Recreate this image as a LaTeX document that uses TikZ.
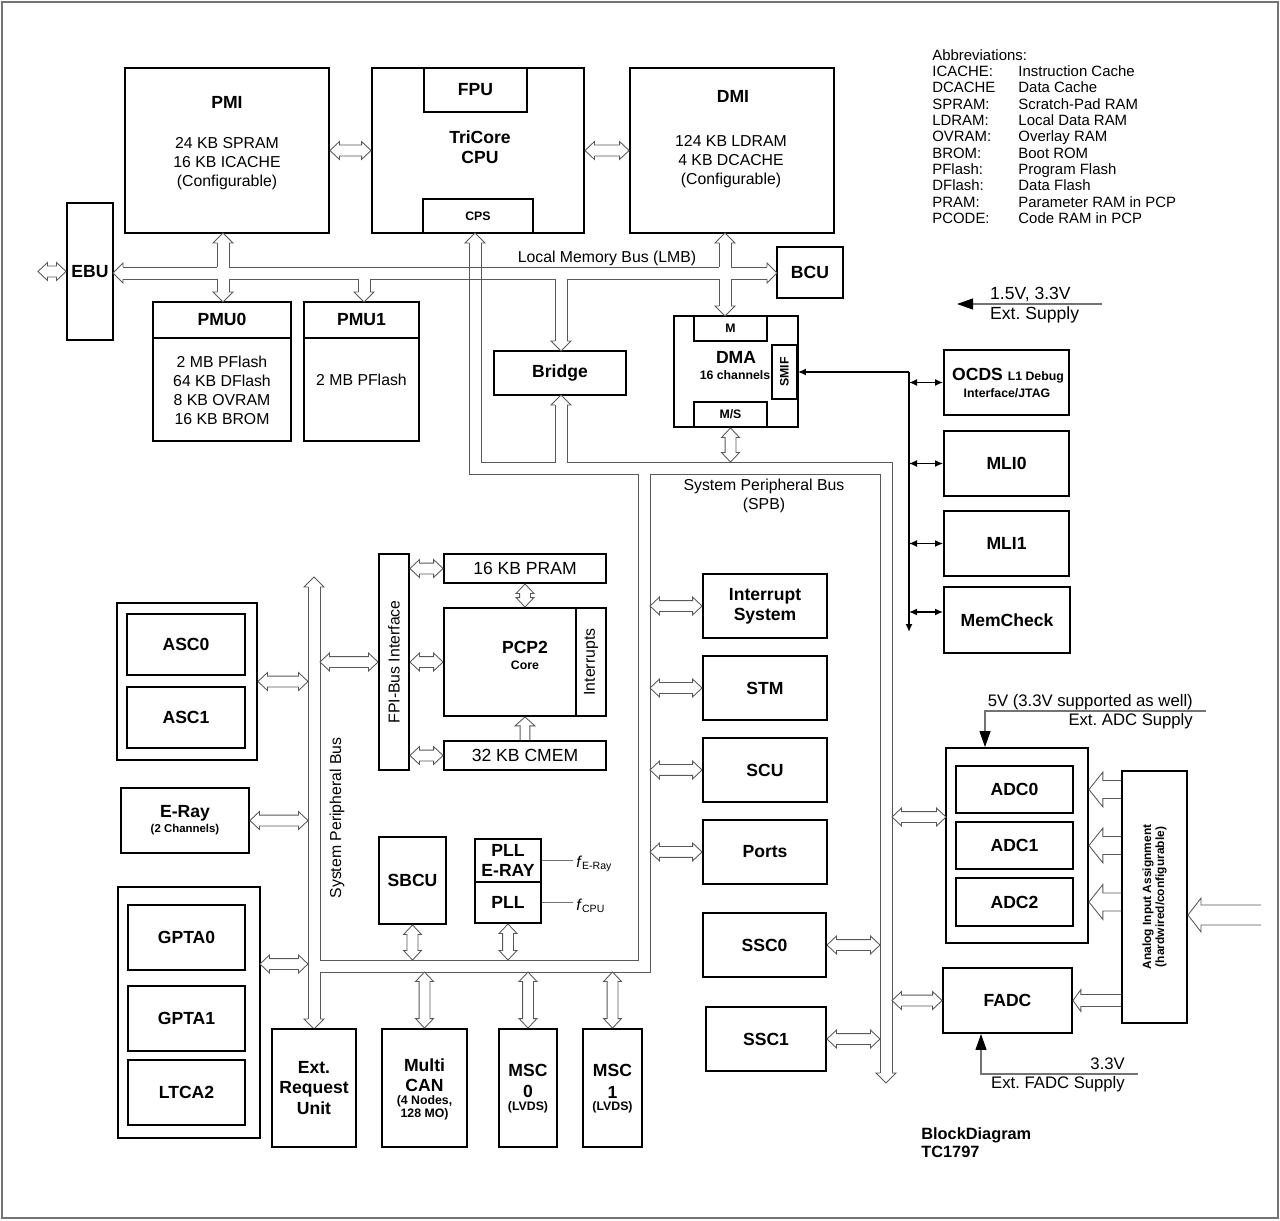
\documentclass[tikz,border=0pt]{standalone}
\usepackage{fontspec}
\setmainfont{Liberation Sans}
\usepackage{tikz}
\usetikzlibrary{shapes, arrows.meta, positioning, calc}
\frenchspacing
\tikzstyle{block}=[draw,line width=1.1pt,rectangle,inner sep=0pt,align=center,font=\bfseries\fontsize{10}{11.5}\selectfont]
\tikzstyle{every node}=[font=\fontsize{9}{10.8}\selectfont]
\tikzstyle{title}=[inner sep=0pt,align=center,font=\bfseries\fontsize{10}{11.5}\selectfont]
\tikzstyle{body}=[inner sep=0pt,align=center,font=\fontsize{9}{10.8}\selectfont]
\tikzstyle{note}=[inner sep=0pt,align=center,font=\bfseries\fontsize{7}{7.5}\selectfont]
\tikzstyle{bus}=[draw=black!65,line width=0.5pt]
\tikzstyle{sig}=[line width=0.8pt]
\tikzstyle{supply}=[draw=black!55,line width=0.6pt,-{Triangle[length=3.2mm,width=2.2mm,color=black]}]
\newcommand{\arpt}[2]{({(\x1)+(#1)*(\n2)-(#2)*(\n3)},{(\y1)+(#1)*(\n3)+(#2)*(\n2)})}
\tikzset{
  dbl/.style n args={3}{bus,to path={let \p1=(\tikztostart),\p2=(\tikztotarget),
      \n1={veclen((\x2)-(\x1),(\y2)-(\y1))},\n2={((\x2)-(\x1))/(\n1)},\n3={((\y2)-(\y1))/(\n1)} in
      \arpt{0}{0} -- \arpt{#1}{#2} -- \arpt{#1}{#3} -- \arpt{\n1-#1}{#3} -- \arpt{\n1-#1}{#2} -- \arpt{\n1}{0}
      -- \arpt{\n1-#1}{-#2} -- \arpt{\n1-#1}{-#3} -- \arpt{#1}{-#3} -- \arpt{#1}{-#2} -- cycle}},
  sgl/.style n args={3}{bus,to path={let \p1=(\tikztostart),\p2=(\tikztotarget),
      \n1={veclen((\x2)-(\x1),(\y2)-(\y1))},\n2={((\x2)-(\x1))/(\n1)},\n3={((\y2)-(\y1))/(\n1)} in
      \arpt{0}{#3} -- \arpt{\n1-#1}{#3} -- \arpt{\n1-#1}{#2} -- \arpt{\n1}{0}
      -- \arpt{\n1-#1}{-#2} -- \arpt{\n1-#1}{-#3} -- \arpt{0}{-#3}}},
  port/.style={dbl={5.4}{5.1}{3.1}},
  bushead/.pic={\draw[bus] (-10,-6) -- (-10,-10) -- (0,0) -- (-10,10) -- (-10,6);}
}

\begin{document}
\begin{tikzpicture}[x=0.02cm,y=-0.02cm,node distance=1.64cm,>={Latex[length=1.6mm,width=1.4mm]}]
    \useasboundingbox (0,0) rectangle (1280,1220);
    \draw[black!55,line width=1pt] (2,2) rectangle (1278,1218);

    % CPU and memory interfaces
    \node[block,minimum width=4.08cm,minimum height=3.3cm] (pmi) at (227,150.5) {};
    \node[title] (pmit) at (227,102) {PMI};
    \node[body] (pmib) at (227,163.5) {24 KB SPRAM\\16 KB ICACHE\\(Configurable)};
    \node[block,minimum width=4.24cm,minimum height=3.3cm] (cpu) at (478,150.5) {};
    \node[block,minimum width=2.06cm,minimum height=0.88cm] (fpu) at (475.5,90) {FPU};
    \node[block,note,minimum width=2.2cm,minimum height=0.68cm] (cps) at (478,216) {CPS};
    \node[title] (cput) at (480,147) {TriCore\\CPU};
    \node[block,minimum width=4.08cm,minimum height=3.3cm] (dmi) at (732,150.5) {};
    \node[title] (dmit) at (733,96) {DMI};
    \node[body] (dmib) at (731,162) {124 KB LDRAM\\4 KB DCACHE\\(Configurable)};
    \node[block,minimum width=0.92cm,minimum height=2.74cm] (ebu) at (90,271.5) {EBU};
    \coordinate (ebuin) at (38,271.5);

    % program memory units
    \node[block,minimum width=2.76cm,minimum height=2.78cm] (pmu0) at (222,371.5) {};
    \draw[line width=1.1pt] ([yshift=-0.74cm]pmu0.north west) -- ([yshift=-0.74cm]pmu0.north east);
    \node[title] (pmu0t) at (222,319) {PMU0};
    \node[body] (pmu0b) at (222,390) {2 MB PFlash\\64 KB DFlash\\8 KB OVRAM\\16 KB BROM};
    \node[block,minimum width=2.3cm,minimum height=2.78cm] (pmu1) at (361.5,371.5) {};
    \draw[line width=1.1pt] ([yshift=-0.74cm]pmu1.north west) -- ([yshift=-0.74cm]pmu1.north east);
    \node[title] (pmu1t) at (361.5,320) {PMU1};
    \node[body] (pmu1b) at (361.5,380) {2 MB PFlash};

    \node[block,minimum width=1.32cm,minimum height=1.02cm] (bcu) at (810,272.5) {BCU};
    \node[block,minimum width=2.64cm,minimum height=0.88cm] (bridge) at (560,373) {Bridge};

    % DMA
    \node[block,minimum width=2.48cm,minimum height=2.22cm] (dma) at (736,371.5) {};
    \node[block,note,minimum width=1.46cm,minimum height=0.5cm] (dmam) at (730.5,328.5) {M};
    \node[block,note,minimum width=1.46cm,minimum height=0.5cm] (dmams) at (730.5,414.5) {M/S};
    \node[block,minimum width=0.5cm,minimum height=1.08cm] (smif) at (784.5,372) {};
    \node[note,rotate=90] (smift) at (smif) {SMIF};
    \node[title] (dmat) at (736,357) {DMA};
    \node[note] (dmac) at (735,375) {16 channels};

    % debug and link interfaces
    \node[block,minimum width=2.5cm,minimum height=1.3cm] (ocds) at (1006.5,382.5) {};
    \node[title] (ocdst) at (1008,376) {OCDS {\fontsize{7}{8}\selectfont L1 Debug}};
    \node[note] (ocdsb) at (1007,393) {Interface/JTAG};
    \node[block,minimum width=2.5cm,minimum height=1.3cm] (mli0) at (1006.5,463.5) {MLI0};
    \node[block,minimum width=2.5cm,minimum height=1.3cm] (mli1) at (1006.5,543.5) {MLI1};
    \node[block,minimum width=2.52cm,minimum height=1.32cm] (memchk) at (1007,620) {MemCheck};
    \coordinate (sigtop) at (909,372);
    \coordinate (sigbot) at (909,632);
    \coordinate (memin) at ([yshift=0.16cm]memchk.west);
    \draw[sig,->] (sigtop) -- (sigbot);
    \draw[sig,->] (sigtop) -- (smif.east);
    \draw[sig,<->] (sigtop |- ocds.west) -- (ocds.west);
    \draw[sig,<->] (sigtop |- mli0.west) -- (mli0.west);
    \draw[sig,<->] (sigtop |- mli1.west) -- (mli1.west);
    \draw[sig,<->] (sigtop |- memin) -- (memin);

    % supply
    \coordinate (supin) at (1102,304);
    \coordinate (suptip) at (957,304);
    \draw[supply] (supin) -- (suptip);
    \node[anchor=west,font=\fontsize{10}{12}\selectfont] (supv) at (984,294) {1.5V, 3.3V};
    \node[anchor=west,font=\fontsize{10}{12}\selectfont] (supt) at (984,315) {Ext. Supply};

    \node[anchor=north west,align=left,inner sep=0pt,font=\fontsize{8.5}{9.3}\selectfont] (abbr) at (932,49) {Abbreviations:\\
      \makebox[49pt][l]{ICACHE:}Instruction Cache\\
      \makebox[49pt][l]{DCACHE}Data Cache\\
      \makebox[49pt][l]{SPRAM:}Scratch-Pad RAM\\
      \makebox[49pt][l]{LDRAM:}Local Data RAM\\
      \makebox[49pt][l]{OVRAM:}Overlay RAM\\
      \makebox[49pt][l]{BROM:}Boot ROM\\
      \makebox[49pt][l]{PFlash:}Program Flash\\
      \makebox[49pt][l]{DFlash:}Data Flash\\
      \makebox[49pt][l]{PRAM:}Parameter RAM in PCP\\
      \makebox[49pt][l]{PCODE:}Code RAM in PCP};

    % local memory bus
    \draw[bus] (123,267) -- (217,267) (229,267) -- (719,267) (731,267) -- (767,267);
    \draw[bus] (123,279) -- (217,279) (229,279) -- (358,279) (370,279) -- (555,279) (567,279) -- (719,279) (731,279) -- (767,279);
    \draw[bus] (217,243) -- (217,267) (217,279) -- (217,292) (229,243) -- (229,267) (229,279) -- (229,292);
    \draw[bus] (358,279) -- (358,292) (370,279) -- (370,292);
    \draw[bus] (555,279) -- (555,341) (567,279) -- (567,341);
    \draw[bus] (719,243) -- (719,267) (719,279) -- (719,306) (731,243) -- (731,267) (731,279) -- (731,306);
    \pic[rotate=180] at (113,273) {bushead};
    \pic at (777,273) {bushead};
    \pic[rotate=90] at (223,233) {bushead};
    \pic[rotate=-90] at (223,302) {bushead};
    \pic[rotate=-90] at (364,302) {bushead};
    \pic[rotate=-90] at (561,351) {bushead};
    \pic[rotate=90] at (725,233) {bushead};
    \pic[rotate=-90] at (725,316) {bushead};
    \node (lmbt) at (607,258) {Local Memory Bus (LMB)};

    % system peripheral bus
    \coordinate (lbusl) at (308,0);
    \coordinate (lbusr) at (320,0);
    \coordinate (mbus) at (650,0);
    \coordinate (rbusl) at (880,0);
    \coordinate (rbusr) at (892,0);
    \coordinate (hbusu) at (0,960);
    \coordinate (hbusl) at (0,972);
    \coordinate (sbus) at (0,462);
    \draw[bus] (469,243) |- (638,474) -- (638,960) -- (320,960) -- (320,587);
    \draw[bus] (308,587) -- (308,1019);
    \draw[bus] (320,1019) -- (320,972) -- (650,972) -- (650,474) -- (880,474) -- (880,1073);
    \draw[bus] (892,1073) -- (892,462) -- (567,462) -- (567,405);
    \draw[bus] (555,405) -- (555,462) -- (481,462) -- (481,243);
    \pic[rotate=90] at (475,233) {bushead};
    \pic[rotate=90] at (314,577) {bushead};
    \pic[rotate=-90] at (314,1029) {bushead};
    \pic[rotate=-90] at (886,1083) {bushead};
    \pic[rotate=90] at (561,395) {bushead};
    \node[body] (spbt) at (764,496) {System Peripheral Bus\\(SPB)};
    \node[rotate=90] (spbv) at (337,818) {System Peripheral Bus};

    % PCP
    \node[block,minimum width=0.6cm,minimum height=4.32cm] (fpi) at (394,662) {};
    \node[rotate=90] (fpit) at (fpi) {FPI-Bus Interface};
    \node[block,font=\fontsize{10}{12}\selectfont,minimum width=3.24cm,minimum height=0.58cm] (pram) at (525,568.5) {16 KB PRAM};
    \node[block,minimum width=3.24cm,minimum height=2.16cm] (pcp) at (525,662) {};
    \node[block,minimum width=0.6cm,minimum height=2.16cm] (intr) at (591,662) {};
    \node[rotate=90] (intrt) at (intr) {Interrupts};
    \node[title] (pcpt) at (525,647) {PCP2};
    \node[note] (pcpc) at (525,665) {Core};
    \node[block,font=\fontsize{10}{12}\selectfont,minimum width=3.24cm,minimum height=0.58cm] (cmem) at (525,755.5) {32 KB CMEM};

    % clocks
    \node[block,minimum width=1.34cm,minimum height=1.74cm] (sbcu) at (412.5,880.5) {SBCU};
    \node[block,minimum width=1.32cm,minimum height=0.86cm] (pllr) at (508,860.5) {PLL\\E-RAY};
    \node[block,minimum width=1.32cm,minimum height=0.82cm] (pll) at (508,902.5) {PLL};
    \coordinate (fray) at (573,860.5);
    \coordinate (fcpu) at (573,902.5);
    \draw[black!55] (pllr.east) -- (fray);
    \draw[black!55] (pll.east) -- (fcpu);
    \node[anchor=west,inner sep=0pt] (frayt) at (576,864) {\textit{f}\textsubscript{E-Ray}};
    \node[anchor=west,inner sep=0pt] (fcput) at (576,906) {\textit{f}\textsubscript{CPU}};

    % bottom row
    \node[block,minimum width=1.68cm,minimum height=2.36cm] (eru) at (314,1088) {Ext.\\Request\\Unit};
    \node[block,minimum width=1.7cm,minimum height=2.36cm] (can) at (424.5,1088) {};
    \node[title] (cant) at (424.5,1075) {Multi\\CAN};
    \node[note] (canb) at (424.5,1108) {(4 Nodes,\\128 MO)};
    \node[block,minimum width=1.16cm,minimum height=2.36cm] (msc0) at (528,1088) {};
    \node[title,font=\bfseries\fontsize{10}{12.4}\selectfont] (msc0t) at (528,1081) {MSC\\0};
    \node[note] (msc0b) at (528,1107) {(LVDS)};
    \node[block,minimum width=1.18cm,minimum height=2.36cm] (msc1) at (612.5,1088) {};
    \node[title,font=\bfseries\fontsize{10}{12.4}\selectfont] (msc1t) at (612.5,1081) {MSC\\1};
    \node[note] (msc1b) at (612.5,1107) {(LVDS)};

    % left peripherals
    \node[block,minimum width=2.8cm,minimum height=3.14cm] (ascg) at (187,681.5) {};
    \node[block,minimum width=2.36cm,minimum height=1.22cm] (asc0) at (186,644.5) {ASC0};
    \node[block,below of=asc0,node distance=1.46cm,minimum width=2.36cm,minimum height=1.22cm] (asc1) {ASC1};
    \node[block,minimum width=2.56cm,minimum height=1.3cm] (eray) at (185,820.5) {};
    \node[title] (erayt) at (185,813) {E-Ray};
    \node[note,font=\bfseries\fontsize{6.5}{7}\selectfont] (erayb) at (185,830) {(2 Channels)};
    \node[block,minimum width=2.84cm,minimum height=5.02cm] (gptag) at (189,1012.5) {};
    \node[block,minimum width=2.34cm,minimum height=1.3cm] (gpta0) at (186.5,937.5) {GPTA0};
    \node[block,below of=gpta0,node distance=1.62cm,minimum width=2.34cm,minimum height=1.3cm] (gpta1) {GPTA1};
    \node[block,below of=gpta1,node distance=1.48cm,minimum width=2.34cm,minimum height=1.3cm] (ltca2) {LTCA2};
    \coordinate (gptain) at (260,964);

    % right peripherals
    \node[block,minimum width=2.48cm,minimum height=1.28cm] (irq) at (765,606) {Interrupt\\System};
    \node[block,below of=irq,minimum width=2.48cm,minimum height=1.28cm] (stm) {STM};
    \node[block,below of=stm,minimum width=2.48cm,minimum height=1.28cm] (scu) {SCU};
    \node[block,below of=scu,minimum width=2.48cm,minimum height=1.28cm] (ports) {Ports};
    \node[block,minimum width=2.46cm,minimum height=1.28cm] (ssc0) at (764.5,945) {SSC0};
    \node[block,minimum width=2.4cm,minimum height=1.28cm] (ssc1) at (766,1039) {SSC1};

    % analog
    \node[block,minimum width=2.84cm,minimum height=3.9cm] (adcg) at (1017,845.5) {};
    \node[block,minimum width=2.34cm,minimum height=0.94cm] (adc0) at (1014.5,789.5) {ADC0};
    \node[block,below of=adc0,node distance=1.12cm,minimum width=2.34cm,minimum height=0.94cm] (adc1) {ADC1};
    \node[block,below of=adc1,node distance=1.13cm,minimum width=2.34cm,minimum height=0.96cm] (adc2) {ADC2};
    \node[block,minimum width=2.58cm,minimum height=1.3cm] (fadc) at (1007.5,1000.5) {FADC};
    \node[block,minimum width=1.3cm,minimum height=5.04cm] (analog) at (1154.5,897) {};
    \node[note,rotate=90,font=\bfseries\fontsize{6.8}{7.4}\selectfont] (analogt) at (analog) {Analog Input Assignment\\(hardwired/configurable)};
    \coordinate (adcin) at (946,817);
    \coordinate (ain) at (1261,915);
    \coordinate (adcsup) at (1206,711);
    \coordinate (adcsupc) at (985,711);
    \coordinate (fsup) at (1138,1074);
    \coordinate (fsupc) at (981,1074);
    \draw[supply] (adcsup) -- (adcsupc) -- (adcsupc |- adcg.north);
    \draw[supply] (fsup) -- (fsupc) -- (fsupc |- fadc.south);
    \node[anchor=east,font=\fontsize{9.5}{11}\selectfont] (adcv) at (1199,702) {5V (3.3V supported as well)};
    \node[anchor=east,font=\fontsize{9.5}{11}\selectfont] (adcs) at (1199,721) {Ext. ADC Supply};
    \node[anchor=east,font=\fontsize{9.5}{11}\selectfont] (fv) at (1131,1064) {3.3V};
    \node[anchor=east,font=\fontsize{9.5}{11}\selectfont] (fs) at (1131,1084) {Ext. FADC Supply};

    \node[anchor=west,align=left,inner sep=0pt,font=\bfseries\fontsize{9.3}{10.2}\selectfont] (bd) at (921,1143) {BlockDiagram\\TC1797};

    % bus connections
    \draw[port] (pmi.east) to (cpu.west);
    \draw[port] (cpu.east) to (dmi.west);
    \draw[port] (ebuin) to (ebu.west);
    \draw[port] (dmams.south) to (dmams.south |- sbus);
    \draw[port] (fpi.east |- pram.west) to (pram.west);
    \draw[port] (fpi.east) to (pcp.west);
    \draw[port] (fpi.east |- cmem.west) to (cmem.west);
    \draw[port] (pram.south) to (pcp.north);
    \draw[sgl={5.1}{5.7}{2.8}] (cmem.north) to (pcp.south);
    \draw[port] (lbusr |- fpi.west) to (fpi.west);
    \draw[port] (sbcu.south) to (sbcu.south |- hbusu);
    \draw[port] (pll.south) to (pll.south |- hbusu);
    \draw[port] (can.north |- hbusl) to (can.north);
    \draw[port] (msc0.north |- hbusl) to (msc0.north);
    \draw[port] (msc1.north |- hbusl) to (msc1.north);
    \draw[port] (ascg.east) to (lbusl |- ascg.east);
    \draw[port] (eray.east) to (lbusl |- eray.east);
    \draw[port] (gptain) to (lbusl |- gptain);
    \draw[port] (mbus |- irq.west) to (irq.west);
    \draw[port] (mbus |- stm.west) to (stm.west);
    \draw[port] (mbus |- scu.west) to (scu.west);
    \draw[port] (mbus |- ports.west) to (ports.west);
    \draw[port] (ssc0.east) to (rbusl |- ssc0.east);
    \draw[port] (ssc1.east) to (rbusl |- ssc1.east);
    \draw[port] (rbusr |- adcin) to (adcin);
    \draw[port] (rbusr |- fadc.west) to (fadc.west);
    \draw[sgl={7.9}{9.9}{5.1}] (analog.west |- adc0) to (adcg.east |- adc0);
    \draw[sgl={7.9}{9.9}{5.1}] (analog.west |- adc1) to (adcg.east |- adc1);
    \draw[sgl={7.9}{9.9}{5.1}] (analog.west |- adc2) to (adcg.east |- adc2);
    \draw[sgl={4.5}{6.2}{3.4}] (analog.west |- fadc) to (fadc.east);
    \draw[sgl={7.4}{9.6}{5.7}] (ain) to (analog.east |- ain);
\end{tikzpicture}
\end{document}
